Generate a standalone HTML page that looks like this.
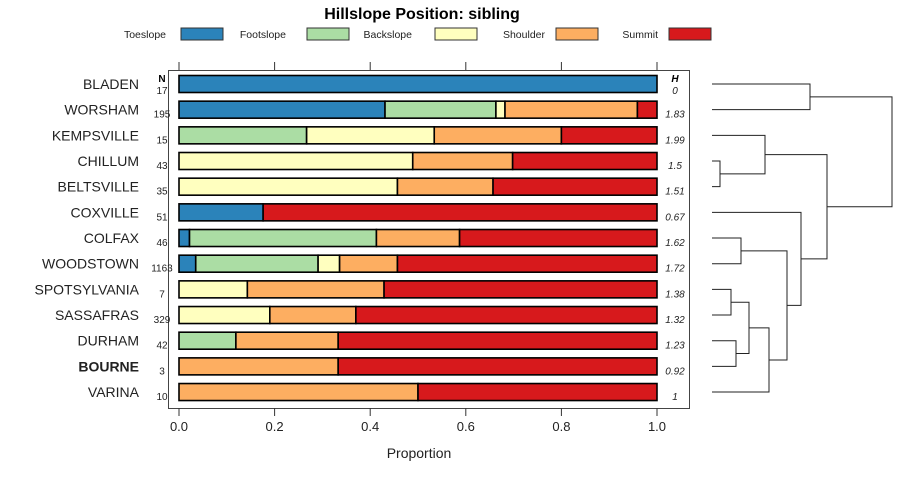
<!DOCTYPE html>
<html><head><meta charset="utf-8"><style>
body{margin:0;background:#fff;}
svg{display:block;font-family:"Liberation Sans",sans-serif;}
</style></head><body>
<svg id="c" width="900" height="480"></svg>
<script>
const series=["Toeslope","Footslope","Backslope","Shoulder","Summit"];
const colors=["#2b83ba","#abdda4","#ffffbf","#fdae61","#d7191c"];
const soils=["BLADEN","WORSHAM","KEMPSVILLE","CHILLUM","BELTSVILLE","COXVILLE","COLFAX","WOODSTOWN","SPOTSYLVANIA","SASSAFRAS","DURHAM","BOURNE","VARINA"];
const nVals=[17,195,15,43,35,51,46,1163,7,329,42,3,10];
const hVals=["0","1.83","1.99","1.5","1.51","0.67","1.62","1.72","1.38","1.32","1.23","0.92","1"];
const toeslope=[1,0.431,0,0,0,0.176,0.022,0.035,0,0,0,0,0];
const footslope=[0,0.232,0.267,0,0,0,0.391,0.256,0,0,0.119,0,0];
const backslope=[0,0.019,0.267,0.489,0.457,0,0,0.045,0.143,0.19,0,0,0];
const shoulder=[0,0.277,0.266,0.209,0.2,0,0.174,0.121,0.286,0.18,0.214,0.333,0.5];
const summit=[0,0.041,0.2,0.302,0.343,0.824,0.413,0.543,0.571,0.63,0.667,0.667,0.5];
const xTicks=[0,0.2,0.4,0.6,0.8,1.0];
const xTickLabels=["0.0","0.2","0.4","0.6","0.8","1.0"];
// dendrogram merges: [left, right, height]; negative = leaf index (-(i+1)), positive = merge number (1-based)
const mergeLeft=[-4,-3,-7,-9,-11,4,6,3,-6,2,-1,11];
const mergeRight=[-5,1,-8,-10,-12,5,-13,7,8,9,-2,10];
const mergeHeight=[0.08,0.53,0.29,0.19,0.24,0.37,0.57,0.75,0.89,1.15,0.98,1.8];
const NS="http://www.w3.org/2000/svg";
const svg=document.getElementById('c');
function el(t,a,p){const e=document.createElementNS(NS,t);for(const k in a)e.setAttribute(k,a[k]);(p||svg).appendChild(e);return e;}
const x0=179,x1=657;
const xs=v=>x0+v*(x1-x0);
const y0=84,dy=25.67;
const ys=i=>y0+i*dy;
const dx0=712,dx1=892;
const hs=h=>dx0+h/1.8*(dx1-dx0);
// title
let t=el('text',{x:422,y:19,'text-anchor':'middle','font-size':16,'font-weight':'bold'});t.textContent="Hillslope Position: sibling";

const legX=[[166,181],[286,307],[412,435],[545,556],[658,669]];
series.forEach((s,i)=>{
 const g=el('g',{});
 
 
 const tx=el('text',{x:legX[i][0],y:38,'text-anchor':'end','font-size':10.5,fill:'#222'},g);tx.textContent=s;
 el('rect',{x:legX[i][1],y:28,width:42,height:12,fill:colors[i],stroke:'#333','stroke-width':1},g);
});
// panel
const panel=el('rect',{x:168.5,y:70.5,width:521,height:338,fill:'none',stroke:'#444','stroke-width':1});

xTicks.forEach((v,i)=>{
 el('line',{x1:xs(v),x2:xs(v),y1:62,y2:70,stroke:'#333'});
 el('line',{x1:xs(v),x2:xs(v),y1:408,y2:416,stroke:'#333'});
 const tl=el('text',{x:xs(v),y:431,'text-anchor':'middle','font-size':13,fill:'#222'});tl.textContent=xTickLabels[i];
 
});
const xt=el('text',{x:419,y:458,'text-anchor':'middle','font-size':14,fill:'#222'});xt.textContent="Proportion";

let hN=el('text',{x:162,y:82,'text-anchor':'middle','font-size':10,'font-weight':'bold'});hN.textContent="N";
let hH=el('text',{x:675,y:82,'text-anchor':'middle','font-size':10,'font-weight':'bold','font-style':'italic'});hH.textContent="H";
const all=[toeslope,footslope,backslope,shoulder,summit];
soils.forEach((s,i)=>{
 const cy=ys(i);
 const lb=el('text',{x:139,y:cy+5,'text-anchor':'end','font-size':14,fill:'#222','font-weight':s==="BOURNE"?'bold':'normal'});lb.textContent=s;
 
 const nt=el('text',{x:162,y:cy+(i===0?10:8),'text-anchor':'middle','font-size':10,fill:'#222'});nt.textContent=nVals[i];
 
 const ht=el('text',{x:675,y:cy+(i===0?10:8),'text-anchor':'middle','font-size':10,'font-style':'italic',fill:'#222'});ht.textContent=hVals[i];
 
 let acc=0;
 all.forEach((arr,k)=>{
  const v=arr[i];if(v<=0)return;
  const r=el('rect',{x:xs(acc),y:cy-8.5,width:xs(acc+v)-xs(acc),height:17,fill:colors[k],stroke:'#000','stroke-width':1.6});
  
  
  acc+=v;
 });
});
// dendrogram
const pos=[];
function node(id){if(id<0)return{y:ys(-id-1),x:dx0};return pos[id-1];}
mergeLeft.forEach((l,m)=>{
 const a=node(l),b=node(mergeRight[m]),hx=hs(mergeHeight[m]);
 const p=el('path',{d:`M${a.x},${a.y}H${hx}V${b.y}H${b.x}`,fill:'none',stroke:'#222','stroke-width':1});
 
 pos[m]={x:hx,y:(a.y+b.y)/2};
});
</script>
</body></html>
